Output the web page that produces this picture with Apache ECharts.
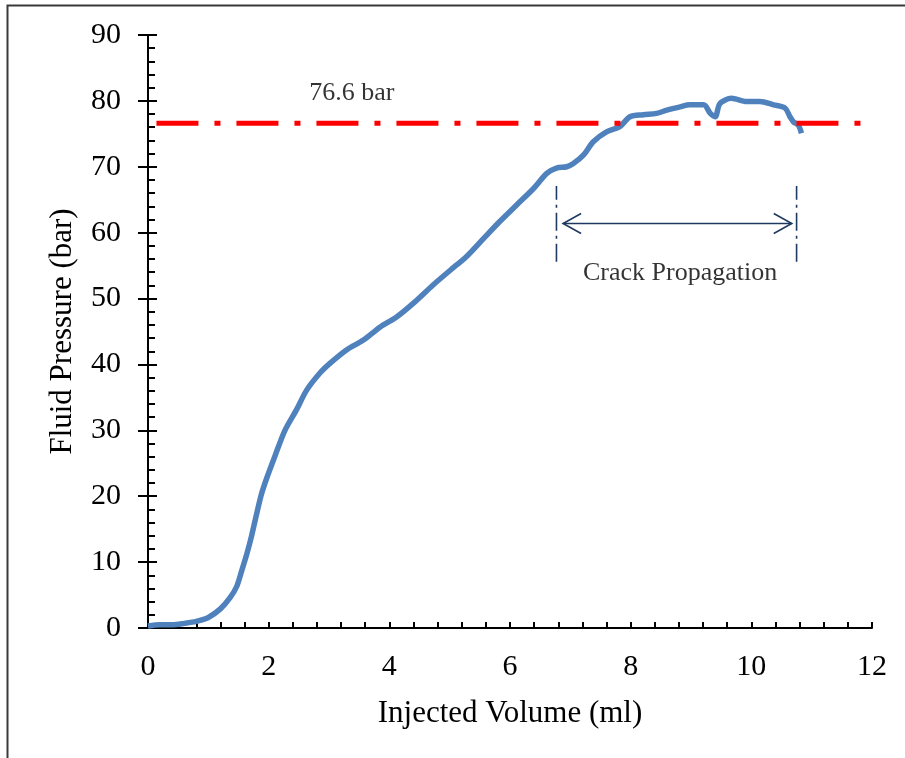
<!DOCTYPE html>
<html>
<head>
<meta charset="utf-8">
<script src="https://cdn.jsdelivr.net/npm/echarts@6/dist/echarts.min.js"></script>
<style>
html,body{margin:0;padding:0;background:#fff;}
#chart{width:905px;height:758px;}
</style>
</head>
<body>
<div id="chart"></div>
<script>
// ---- data ----
var volume = [0, 0.2, 0.4, 0.6, 0.8, 1.0, 1.2, 1.36, 1.47, 1.55, 1.64, 1.72, 1.80, 1.88, 1.97, 2.10, 2.27, 2.46, 2.63, 2.85, 3.02, 3.29, 3.57, 3.85, 4.12, 4.40, 4.73, 5.01, 5.28, 5.56, 5.83, 6.11, 6.39, 6.61, 6.77, 6.94, 7.05, 7.22, 7.38, 7.60, 7.82, 7.99, 8.21, 8.43, 8.60, 8.82, 8.98, 9.21, 9.32, 9.40, 9.48, 9.67, 9.92, 10.14, 10.37, 10.56, 10.64, 10.70, 10.78, 10.83];
var pressure = [0.3, 0.5, 0.5, 0.7, 1.0, 1.6, 2.9, 4.6, 6.3, 8.6, 11.3, 14.1, 17.3, 20.3, 22.8, 26.0, 30.0, 33.1, 36.1, 38.7, 40.2, 42.2, 43.7, 45.7, 47.2, 49.3, 52.1, 54.3, 56.4, 59.1, 61.7, 64.2, 66.7, 69.0, 69.8, 70.0, 70.5, 71.8, 73.8, 75.3, 76.1, 77.6, 77.9, 78.1, 78.6, 79.1, 79.4, 79.4, 78.1, 77.6, 79.6, 80.4, 79.9, 79.9, 79.4, 78.9, 77.6, 76.8, 76.3, 75.1];

var refLevel = 76.6;
var refSpan = [0.14, 11.93];
var refLabel = "76.6 bar";
var refLabelPos = [3.38, 81.2];

var crackX = [6.77, 10.75];
var crackYRange = [55.6, 67.1];
var arrowX = [6.88, 10.67];
var arrowY = 61.4;
var crackLabel = "Crack Propagation";
var crackLabelPos = [8.82, 53.9];

var xTicks = [0, 2, 4, 6, 8, 10, 12];
var yTicks = [0, 10, 20, 30, 40, 50, 60, 70, 80, 90];
var xName = "Injected Volume (ml)";
var yName = "Fluid Pressure (bar)";

// ---- chart ----
var FONT = "'Liberation Serif','Times New Roman',serif";
var chart = echarts.init(document.getElementById('chart'), null, {renderer: 'canvas'});

var curve = volume.map(function (v, i) { return [v, pressure[i]]; });
var navy = '#1f3a60';

function arrowRender(params, api) {
  var p1 = api.coord([arrowX[0], arrowY]);
  var p2 = api.coord([arrowX[1], arrowY]);
  var hl = 18, hw = 10;
  var style = {stroke: navy, lineWidth: 1.6, fill: null};
  return {
    type: 'group',
    children: [
      {type: 'line', shape: {x1: p1[0], y1: p1[1], x2: p2[0], y2: p2[1]}, style: style},
      {type: 'polyline', shape: {points: [[p1[0] + hl, p1[1] - hw], [p1[0], p1[1]], [p1[0] + hl, p1[1] + hw]]}, style: style},
      {type: 'polyline', shape: {points: [[p2[0] - hl, p2[1] - hw], [p2[0], p2[1]], [p2[0] - hl, p2[1] + hw]]}, style: style}
    ]
  };
}

var option = {
  animation: false,
  backgroundColor: '#ffffff',
  textStyle: {fontFamily: FONT},
  graphic: [{
    type: 'rect', left: 5, top: 3, z: 100,
    shape: {x: 0, y: 0, width: 1000, height: 1000},
    style: {fill: null, stroke: '#3a3a3a', lineWidth: 2}
  }],
  grid: {left: 148, right: 33, top: 35, bottom: 130, containLabel: false},
  xAxis: {
    type: 'value', min: xTicks[0], max: xTicks[xTicks.length - 1], interval: 2,
    name: xName, nameLocation: 'middle', nameGap: 70,
    nameTextStyle: {fontFamily: FONT, fontSize: 31, color: '#000'},
    axisLine: {lineStyle: {color: '#000', width: 2}},
    axisTick: {inside: true, length: 6, lineStyle: {color: '#000', width: 2}},
    minorTick: {show: true, splitNumber: 5, length: 6, lineStyle: {color: '#000', width: 2}},
    axisLabel: {fontFamily: FONT, fontSize: 30, color: '#000', margin: 24},
    splitLine: {show: false}
  },
  yAxis: [{
    type: 'value', min: yTicks[0], max: yTicks[yTicks.length - 1], interval: 10,
    name: yName, nameLocation: 'middle', nameGap: 70,
    nameTextStyle: {fontFamily: FONT, fontSize: 31, color: '#000'},
    axisLine: {lineStyle: {color: '#000', width: 2}},
    axisTick: {inside: true, length: 9, lineStyle: {color: '#000', width: 2}},
    minorTick: {show: true, splitNumber: 5, length: 7, lineStyle: {color: '#000', width: 2}},
    axisLabel: {fontFamily: FONT, fontSize: 30, color: '#000', margin: 27},
    splitLine: {show: false}
  }, {
    type: 'value', position: 'left', min: yTicks[0], max: yTicks[yTicks.length - 1], interval: 10,
    axisLine: {show: false},
    axisTick: {show: true, inside: false, length: 10, lineStyle: {color: '#000', width: 2}},
    axisLabel: {show: false},
    splitLine: {show: false}
  }],
  series: [
    {
      type: 'line', data: curve, showSymbol: false, smooth: 0.3, z: 3,
      lineStyle: {color: '#4f81bd', width: 5.5}
    },
    {
      type: 'line', data: [[refSpan[0], refLevel], [refSpan[1], refLevel]], showSymbol: false, z: 4,
      lineStyle: {color: '#ff0000', width: 5, type: [42, 16, 6, 16], cap: 'butt'}
    },
    {
      type: 'line', data: [[crackX[0], crackYRange[0]], [crackX[0], crackYRange[1]]], showSymbol: false,
      lineStyle: {color: navy, width: 1.6, type: [18, 5, 3, 5]}
    },
    {
      type: 'line', data: [[crackX[1], crackYRange[0]], [crackX[1], crackYRange[1]]], showSymbol: false,
      lineStyle: {color: navy, width: 1.6, type: [18, 5, 3, 5]}
    },
    {
      type: 'custom', renderItem: arrowRender, data: [[arrowX[0], arrowY]], silent: true
    },
    {
      type: 'scatter', symbolSize: 0, silent: true,
      data: [
        {value: refLabelPos, label: {formatter: refLabel}},
        {value: crackLabelPos, label: {formatter: crackLabel}}
      ],
      label: {show: true, position: 'inside', fontFamily: FONT, fontSize: 26, color: '#000', textBorderWidth: 0}
    }
  ]
};
chart.setOption(option);
</script>
</body>
</html>
